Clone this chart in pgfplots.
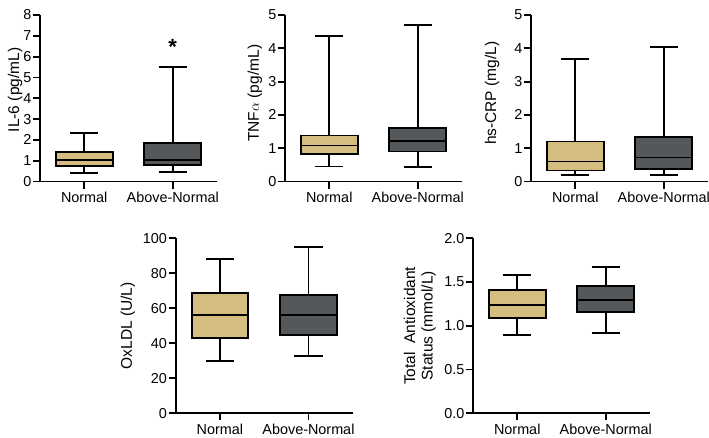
\documentclass[border=0pt]{standalone}
\usepackage{pgfplots}
\pgfplotsset{compat=1.18}
\usepgfplotslibrary{statistics}
\usepackage{fontspec}
\setmainfont{Liberation Sans}
\definecolor{boxtan}{RGB}{212,189,127}
\definecolor{boxgray}{RGB}{84,88,90}

\pgfplotsset{
  panel/.style={
    scale only axis, width=177pt,
    xmin=0.5, xmax=2.5, ymin=0,
    axis lines=left, axis line style={-, line width=1.8pt},
    xtick={1,2}, xticklabels={Normal,Above-Normal},
    tick align=outside, major tick length=7pt,
    tick style={line width=1.8pt, black},
    tick label style={font=\fontsize{14.4}{16}\selectfont},
    yticklabel style={inner sep=1.5pt},
    label style={font=\fontsize{15.5}{17.5}\selectfont},
    /pgf/number format/assume math mode=true,
    boxplot/draw direction=y,
    clip=false,
  },
  bx/.style={draw=black, line width=1.9pt, solid,
    boxplot prepared={#1, box extend=0.64, whisker extend=0.32}},
}

\begin{document}
\begin{tikzpicture}
\path[use as bounding box] (0,0) rectangle (709pt,437pt);

% IL-6
\begin{axis}[panel, at={(40pt,255.5pt)}, anchor=south west, height=166.5pt,
  ymax=8, ytick={0,1,...,8},
  ylabel={IL-6 (pg/mL)},
  ylabel style={at={(axis description cs:-0.141,0.55)}, anchor=center}]
  \addplot[bx={draw position=1, lower whisker=0.40, lower quartile=0.75, median=1.05, upper quartile=1.40, upper whisker=2.33}, fill=boxtan] coordinates {};
  \addplot[bx={draw position=2, lower whisker=0.45, lower quartile=0.80, median=1.05, upper quartile=1.85, upper whisker=5.50}, fill=boxgray] coordinates {};
  \node[font=\bfseries\fontsize{22}{22}\selectfont] at (axis cs:2,6.45) {*};
\end{axis}

% TNF-alpha
\begin{axis}[panel, at={(285pt,255.5pt)}, anchor=south west, height=166.5pt,
  ymax=5, ytick={0,1,...,5},
  ylabel={TNF$\alpha$ (pg/mL)},
  ylabel style={at={(axis description cs:-0.17,0.53)}, anchor=center}]
  \addplot[bx={draw position=1, lower whisker=0.45, lower quartile=0.82, median=1.08, upper quartile=1.38, upper whisker=4.38}, fill=boxtan] coordinates {};
  \addplot[bx={draw position=2, lower whisker=0.43, lower quartile=0.90, median=1.22, upper quartile=1.62, upper whisker=4.70}, fill=boxgray] coordinates {};
\end{axis}

% hs-CRP
\begin{axis}[panel, at={(531pt,255.5pt)}, anchor=south west, height=166.5pt,
  ymax=5, ytick={0,1,...,5},
  ylabel={hs-CRP (mg/L)},
  ylabel style={at={(axis description cs:-0.22,0.53)}, anchor=center}]
  \addplot[bx={draw position=1, lower whisker=0.20, lower quartile=0.33, median=0.60, upper quartile=1.20, upper whisker=3.68}, fill=boxtan] coordinates {};
  \addplot[bx={draw position=2, lower whisker=0.20, lower quartile=0.38, median=0.72, upper quartile=1.33, upper whisker=4.03}, fill=boxgray] coordinates {};
\end{axis}

% OxLDL
\begin{axis}[panel, at={(175.7pt,23.7pt)}, anchor=south west, height=175pt,
  ymax=100, ytick={0,20,...,100},
  ylabel={OxLDL (U/L)},
  ylabel style={at={(axis description cs:-0.27,0.5)}, anchor=center}]
  \addplot[bx={draw position=1, lower whisker=30, lower quartile=43, median=56, upper quartile=68.5, upper whisker=88}, fill=boxtan] coordinates {};
  \addplot[bx={draw position=2, lower whisker=32.5, lower quartile=45, median=56, upper quartile=67.5, upper whisker=95}, fill=boxgray] coordinates {};
\end{axis}

% Total Antioxidant Status
\begin{axis}[panel, at={(473pt,23.7pt)}, anchor=south west, height=175pt,
  ymax=2, ytick={0,0.5,...,2},
  yticklabel style={/pgf/number format/.cd, fixed, fixed zerofill, precision=1},
  ylabel={Total\ \ Antioxidant\\Status (mmol/L)},
  ylabel style={at={(axis description cs:-0.30,0.5)}, anchor=center, align=center}]
  \addplot[bx={draw position=1, lower whisker=0.89, lower quartile=1.09, median=1.24, upper quartile=1.41, upper whisker=1.58}, fill=boxtan] coordinates {};
  \addplot[bx={draw position=2, lower whisker=0.92, lower quartile=1.16, median=1.29, upper quartile=1.45, upper whisker=1.67}, fill=boxgray] coordinates {};
\end{axis}
\end{tikzpicture}
\end{document}
